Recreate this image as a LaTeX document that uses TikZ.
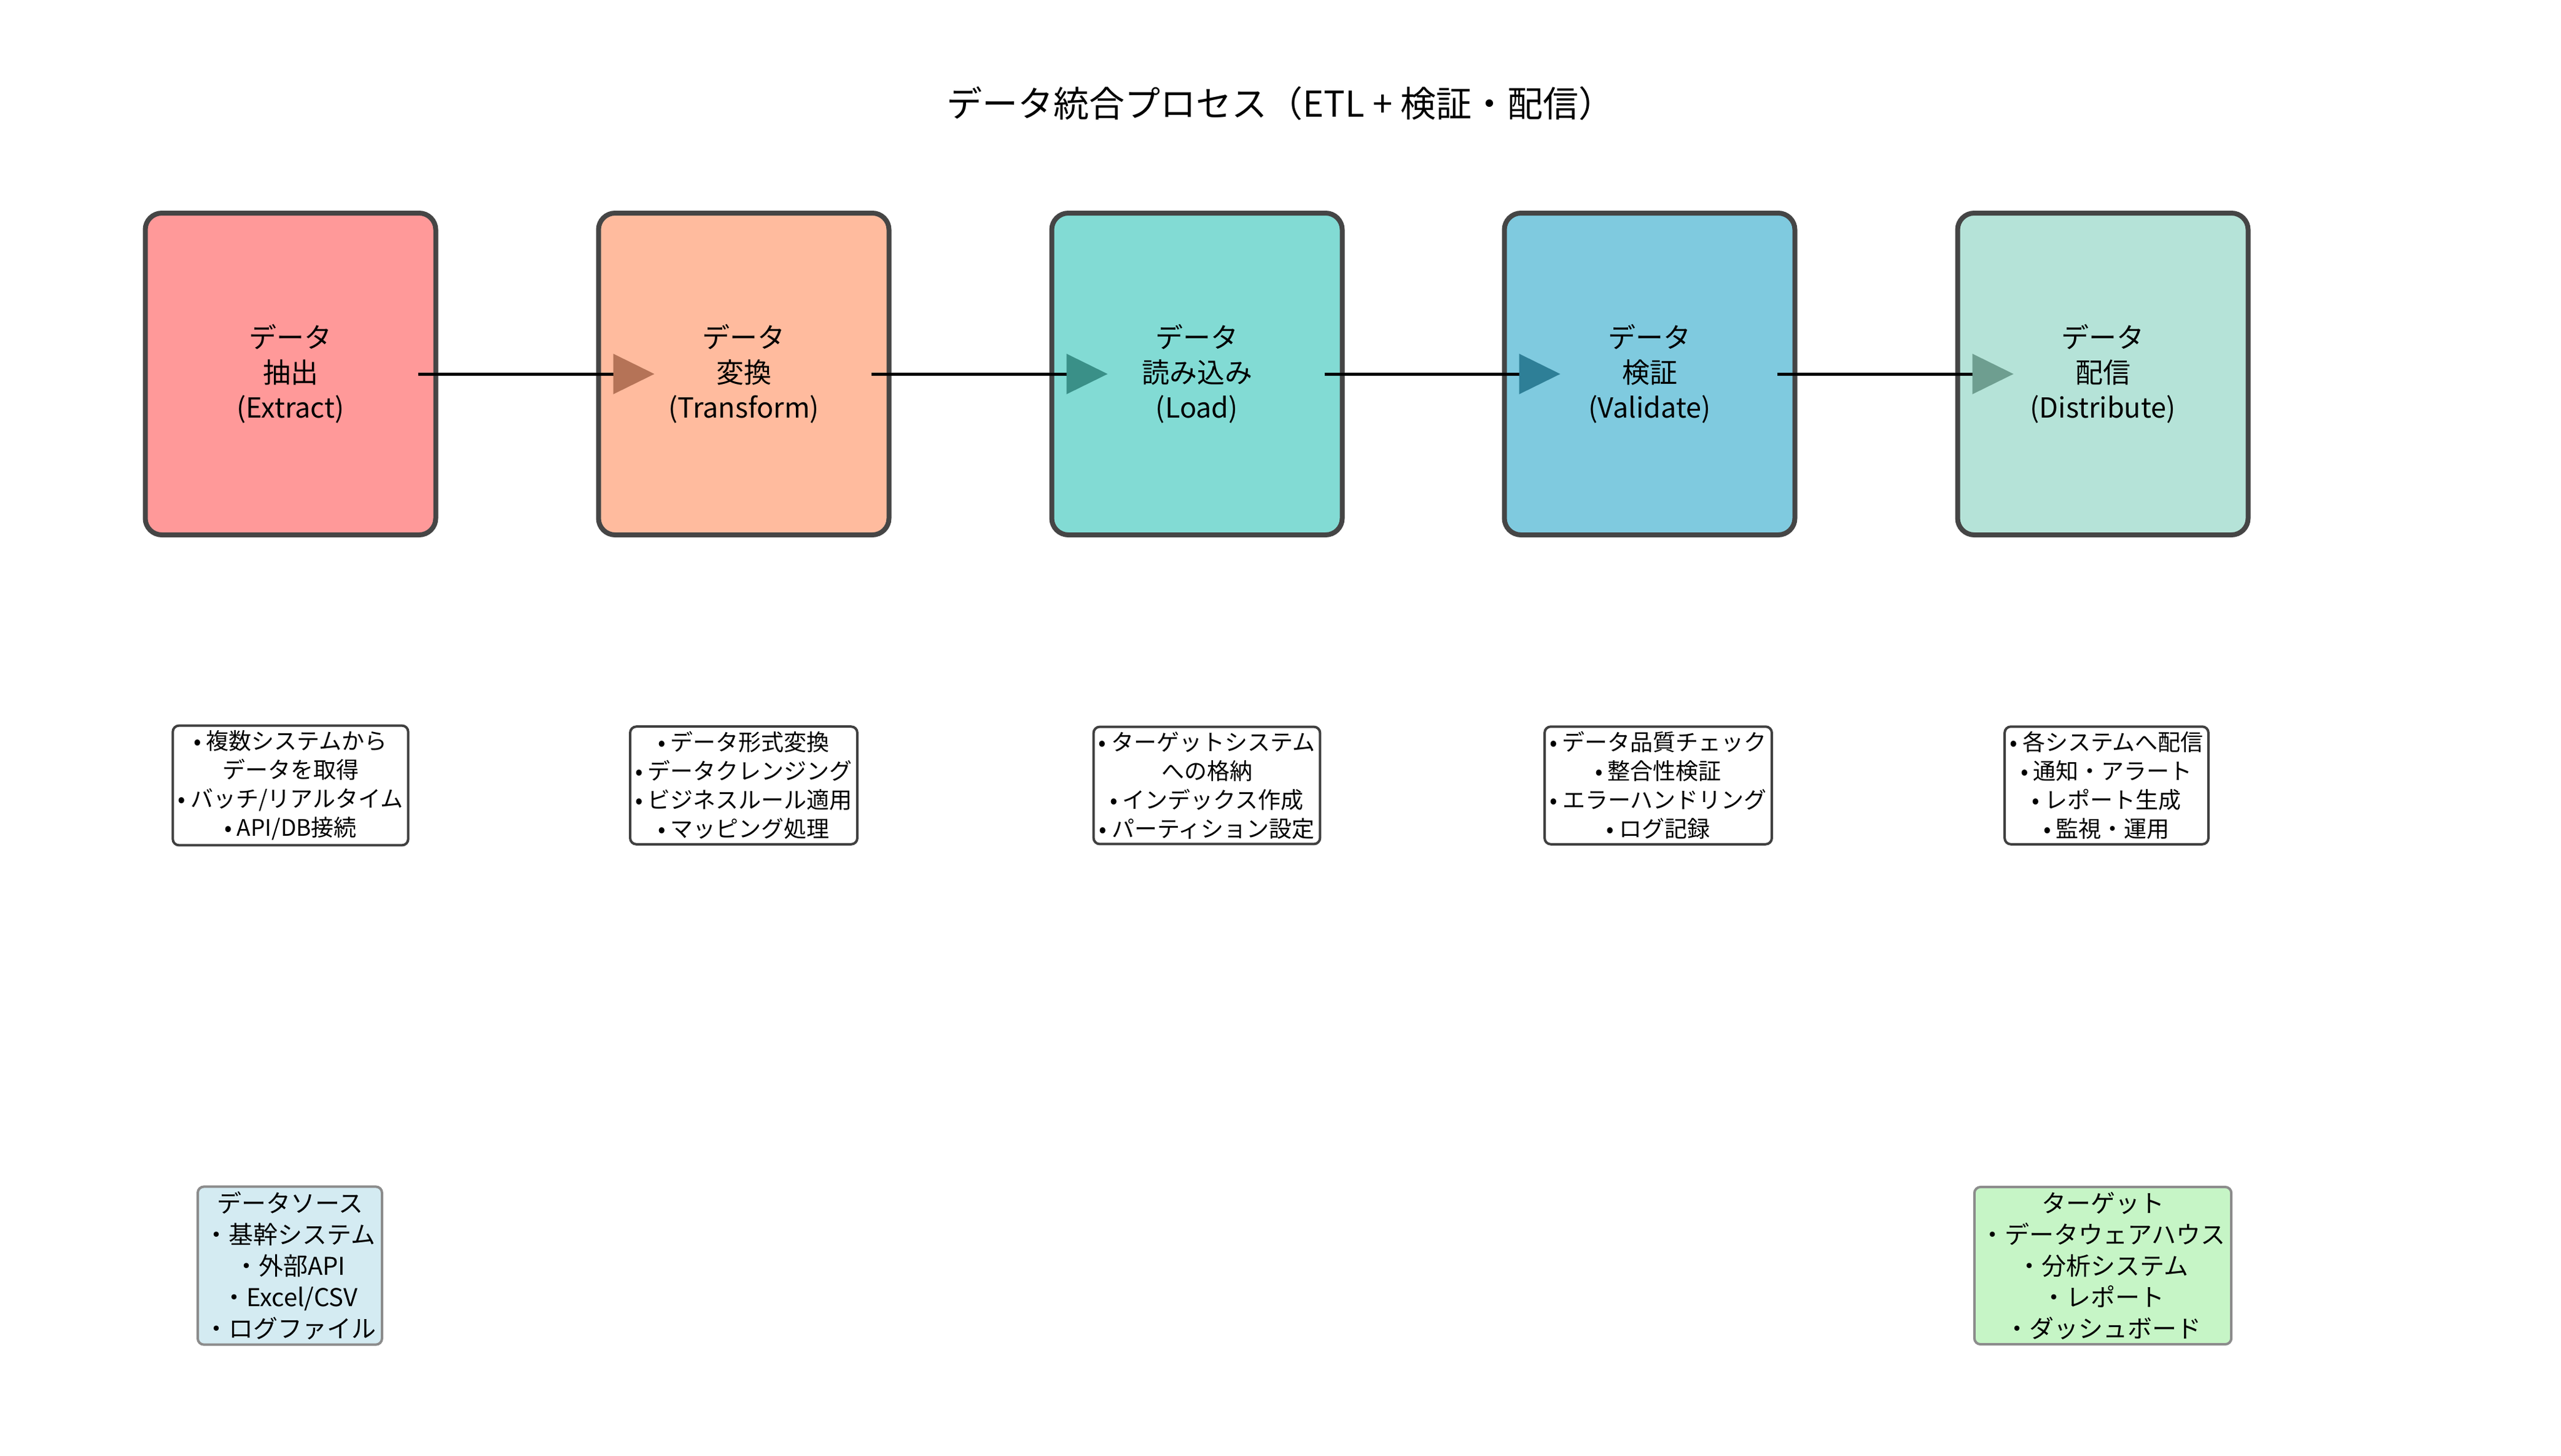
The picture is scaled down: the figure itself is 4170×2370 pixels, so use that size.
\documentclass[tikz,border=0pt]{standalone}
\usepackage{fontspec}
\setmainfont{Noto Sans CJK JP}
\begin{document}
\begin{tikzpicture}[x=1pt,y=-1pt,
  main/.style={draw=black!73,line width=8pt,rounded corners=27pt,minimum width=473pt,minimum height=524pt,align=center,font=\fontsize{45}{57}\selectfont},
  info/.style={draw=black!75,line width=4pt,rounded corners=10pt,fill=white,align=center,inner xsep=8pt,inner ysep=8pt,font=\fontsize{37}{47}\selectfont},
  side/.style={draw=black!45,line width=4pt,rounded corners=10pt,align=center,inner xsep=10pt,inner ysep=8pt,font=\fontsize{40}{51}\selectfont},
  conn/.style={line width=5pt,black}]
\useasboundingbox (0,0) rectangle (4170,2370);
\definecolor{c1}{HTML}{FF9999}\definecolor{c2}{HTML}{FFBB9E}\definecolor{c3}{HTML}{82DBD4}
\definecolor{c4}{HTML}{7FCADF}\definecolor{c5}{HTML}{B5E3D8}
\definecolor{h2}{HTML}{B57357}\definecolor{h3}{HTML}{3A9088}\definecolor{h4}{HTML}{2E7F97}\definecolor{h5}{HTML}{6E9E90}
\node[font=\fontsize{58}{70}\selectfont] (title) at (2085,168) {データ統合プロセス（ETL + 検証・配信）};
\node[main,fill=c1] (b1) at (473,609) {データ\\抽出\\(Extract)};
\node[main,fill=c2] (b2) at (1211,609) {データ\\変換\\(Transform)};
\node[main,fill=c3] (b3) at (1949,609) {データ\\読み込み\\(Load)};
\node[main,fill=c4] (b4) at (2686,609) {データ\\検証\\(Validate)};
\node[main,fill=c5] (b5) at (3424,609) {データ\\配信\\(Distribute)};
\foreach \a/\b/\h in {b1/b2/h2,b2/b3/h3,b3/b4/h4,b4/b5/h5}{
  \coordinate (s) at ([xshift=-33pt]\a.east);
  \coordinate (t) at ([xshift=95pt]\b.west);
  \draw[conn] (s) -- ([xshift=-67pt]t);
  \fill[\h] (t) -- ++(-67,-33) -- ++(0,66) -- cycle;
}
\node[info] (i1) at (473,1279) {• 複数システムから\\データを取得\\• バッチ/リアルタイム\\• API/DB接続};
\node[info] (i2) at (1211,1279) {• データ形式変換\\• データクレンジング\\• ビジネスルール適用\\• マッピング処理};
\node[info] (i3) at (1965,1279) {• ターゲットシステム\\への格納\\• インデックス作成\\• パーティション設定};
\node[info] (i4) at (2700,1279) {• データ品質チェック\\• 整合性検証\\• エラーハンドリング\\• ログ記録};
\node[info] (i5) at (3430,1279) {• 各システムへ配信\\• 通知・アラート\\• レポート生成\\• 監視・運用};
\node[side,fill=cyan!8!blue!3!white,fill={rgb,255:red,212;green,235;blue,242}] (src) at (472,2061) {データソース\\・基幹システム\\・外部API\\・Excel/CSV\\・ログファイル};
\node[side,fill={rgb,255:red,198;green,245;blue,198}] (tgt) at (3424,2061) {ターゲット\\・データウェアハウス\\・分析システム\\・レポート\\・ダッシュボード};
\end{tikzpicture}
\end{document}
